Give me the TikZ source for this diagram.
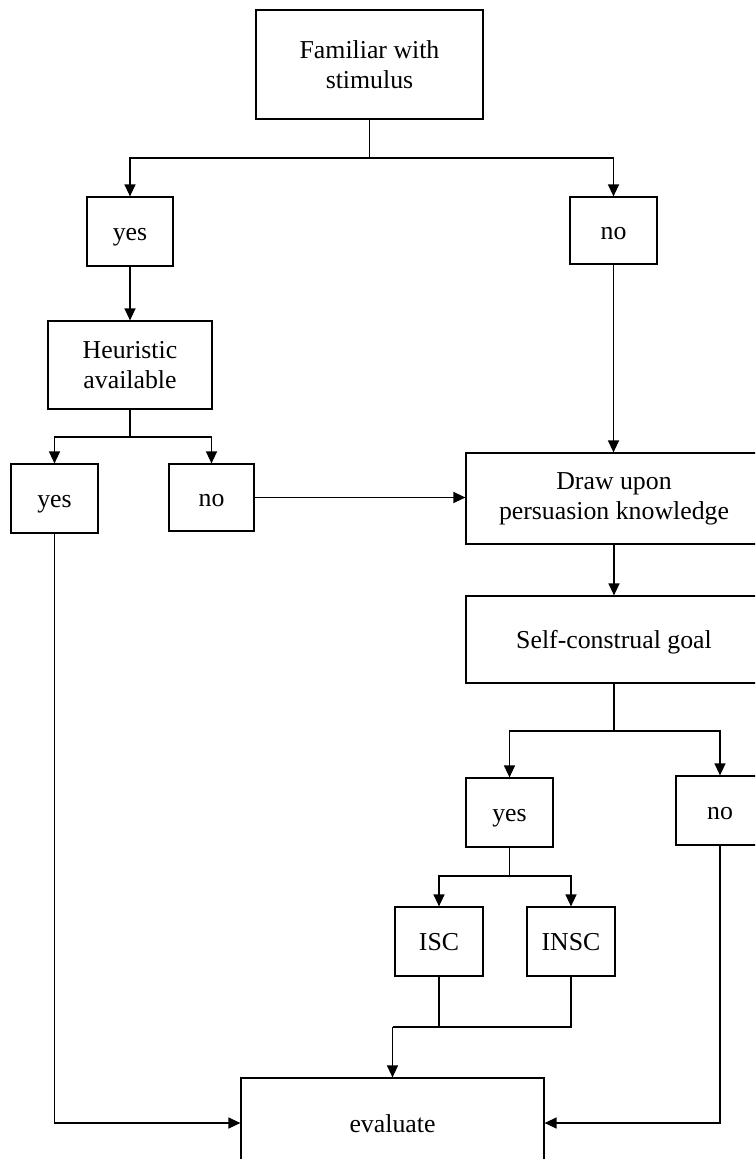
\documentclass[tikz,border=0pt]{standalone}
\usepackage{fontspec}
\setmainfont{Liberation Serif}
\usetikzlibrary{arrows.meta}
\begin{document}
\begin{tikzpicture}[x=1pt,y=-1pt,
  box/.style={draw, line width=1.2pt, inner sep=0pt, align=center,
    font=\fontsize{25.8}{30}\selectfont},
  oneline/.style={box, text height=18pt, text depth=0pt},
  link/.style={line width=1.3pt},
  arr/.style={link, -{Triangle[length=12pt,width=11pt]}}]
  % page frame (boxes on the right and bottom run past it)
  \clip (0,0) rectangle (755,1159);
  \fill[white] (0,0) rectangle (755,1159);

  % decision boxes
  \node[box, minimum width=227pt, minimum height=109pt] (fam)  at (369.5,64.5) {Familiar with\\stimulus};
  \node[oneline, minimum width=86pt,  minimum height=69pt]  (yes1) at (130,231.5) {yes};
  \node[oneline, minimum width=87pt,  minimum height=67pt]  (no1)  at (613.5,230.5) {no};
  \node[box, minimum width=164pt, minimum height=88pt]  (heur) at (130,365) {Heuristic\\available};
  \node[oneline, minimum width=87pt,  minimum height=69pt]  (yes2) at (54.5,498.5) {yes};
  \node[oneline, minimum width=85pt,  minimum height=67pt]  (no2)  at (211.5,497.5) {no};
  \node[box, minimum width=296pt, minimum height=91pt]  (pk)   at (614,498.5) {Draw upon\\persuasion knowledge};
  \node[oneline, minimum width=296pt, minimum height=87pt]  (self) at (614,639.5) {Self-construal goal};
  \node[oneline, minimum width=87pt,  minimum height=69pt]  (yes3) at (509.5,812.5) {yes};
  \node[oneline, minimum width=88pt,  minimum height=69pt]  (no3)  at (720,810.5) {no};
  \node[oneline, minimum width=88pt,  minimum height=69pt]  (isc)  at (439,941.5) {ISC};
  \node[oneline, minimum width=88pt,  minimum height=69pt]  (insc) at (571,941.5) {INSC};
  \node[oneline, minimum width=303pt, minimum height=90pt]  (eval) at (392.5,1123) {evaluate};

  % branch points
  \coordinate (b1) at (369.5,158);
  \coordinate (b2) at (130,437);
  \coordinate (b3) at (614,731);
  \coordinate (b4) at (509.5,876);
  \coordinate (m)  at (392.5,1027);

  % familiar with stimulus?
  \draw[link] (fam.south) -- (b1);
  \draw[arr] (b1) -| (yes1.north);
  \draw[arr] (b1) -| (no1.north);

  % heuristic branch
  \draw[arr] (yes1.south) -- (heur.north);
  \draw[link] (heur.south) -- (b2);
  \draw[arr] (b2) -| (yes2.north);
  \draw[arr] (b2) -| (no2.north);
  \draw[arr] (no2.east) -- (no2.east -| pk.west);
  \draw[arr] (no1.south) -- (no1.south |- pk.north);

  % persuasion knowledge branch
  \draw[arr] (pk.south) -- (self.north);
  \draw[link] (self.south) -- (b3);
  \draw[arr] (b3) -| (yes3.north);
  \draw[arr] (b3) -| (no3.north);
  \draw[link] (yes3.south) -- (b4);
  \draw[arr] (b4) -| (isc.north);
  \draw[arr] (b4) -| (insc.north);

  % into evaluation
  \draw[link] (isc.south) |- (m);
  \draw[link] (insc.south) |- (m);
  \draw[arr] (m) -- (eval.north);
  \draw[arr] (yes2.south) |- (eval.west);
  \draw[arr] (no3.south) |- (eval.east);
\end{tikzpicture}
\end{document}
